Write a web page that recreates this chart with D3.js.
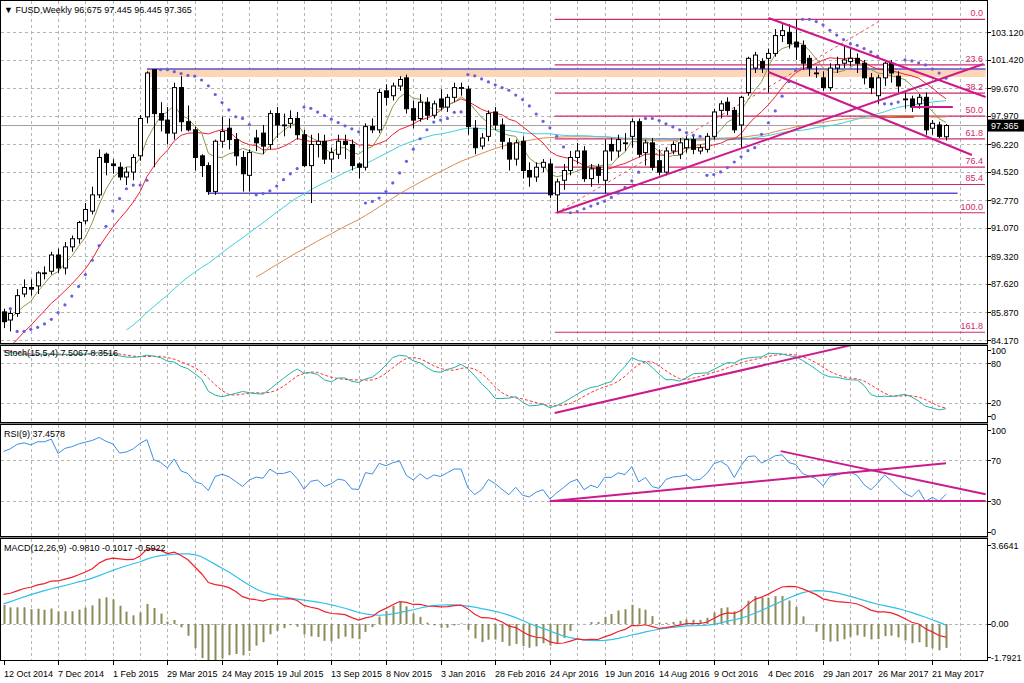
<!DOCTYPE html>
<html><head><meta charset="utf-8">
<script src="https://cdn.jsdelivr.net/npm/d3@7"></script>
<style>
body{margin:0;background:#fff;}
text{font-family:"Liberation Sans",Arial,sans-serif;font-size:9px;fill:#000;}
</style></head><body>
<svg id="chart" width="1024" height="683"></svg>
<script>
// weekly bars, FUSD, 12 Oct 2014 .. 28 May 2017  [open, high, low, close]
const bars = [
[85.9,86.1,84.9,85.3],[85.4,86.0,84.7,85.8],[85.8,87.3,85.6,86.9],[87.0,87.9,86.8,87.4],[87.4,87.9,86.9,87.3],
[87.5,88.4,87.0,88.3],[88.3,88.7,87.9,88.3],[88.4,89.6,88.2,89.4],[89.4,89.8,88.3,88.6],[88.6,90.2,88.2,89.9],
[89.9,90.6,89.6,90.4],[90.4,91.5,90.1,91.4],[91.5,92.6,91.3,92.2],[92.1,93.6,91.9,93.1],[93.1,95.9,92.9,95.4],
[95.6,95.7,94.3,95.1],[95.0,95.3,94.4,94.9],[94.8,95.1,94.0,94.2],[94.2,94.8,93.7,94.5],[94.5,95.6,94.0,95.4],
[95.5,98.0,95.2,97.8],[97.9,100.7,97.5,100.6],[100.8,100.8,94.8,98.1],[98.1,98.8,97.0,97.7],[97.7,98.5,96.2,96.9],
[96.9,100.0,96.5,99.7],[99.7,100.4,97.0,97.6],[97.6,98.6,97.0,97.1],[97.1,97.3,94.6,95.4],[95.5,95.6,94.2,94.9],
[94.9,95.1,93.1,93.3],[93.3,96.5,93.1,96.4],[96.4,97.9,96.0,97.0],[97.2,97.8,95.9,96.5],[96.5,96.9,94.9,95.5],
[95.4,95.8,93.3,94.4],[94.3,95.9,93.3,95.7],[96.6,97.1,95.8,96.3],[96.9,97.4,95.6,96.1],[96.2,98.3,95.9,98.1],
[98.1,98.5,96.6,97.4],[97.4,98.1,96.7,97.4],[97.5,98.3,97.2,97.8],[97.8,98.2,96.5,96.8],[96.8,97.1,94.8,94.9],
[94.9,96.8,92.6,96.2],[96.2,96.9,95.4,96.4],[96.4,96.8,95.0,95.3],[95.3,96.0,94.5,95.7],[95.6,96.8,95.3,96.4],
[96.4,96.8,95.3,96.2],[96.2,96.5,94.6,94.9],[95.0,95.1,94.1,94.8],[94.8,97.5,94.6,97.3],[97.3,97.8,96.9,97.1],
[97.1,99.6,96.9,99.4],[99.5,99.9,98.6,99.1],[99.2,100.0,98.9,99.8],[99.8,100.4,99.5,100.2],[100.3,100.5,98.1,98.4],
[98.4,98.9,97.2,97.7],[97.8,99.3,97.6,98.8],[98.8,99.1,97.7,98.0],[98.0,98.9,97.8,98.7],[99.0,99.6,98.3,98.5],
[98.5,99.3,98.2,99.1],[99.1,100.0,98.8,99.7],[99.7,100.0,99.2,99.7],[99.6,99.8,96.8,97.3],[97.2,97.7,95.6,96.0],
[96.1,96.9,95.9,96.6],[96.7,98.3,96.4,98.1],[98.2,98.5,97.1,97.4],[97.4,97.8,95.9,96.4],[96.3,96.6,94.6,95.3],
[95.3,96.5,94.9,96.3],[96.4,96.7,94.1,94.6],[94.6,95.1,93.6,94.2],[94.2,95.1,93.9,94.8],[94.8,95.3,94.5,95.1],
[95.0,95.3,92.9,93.1],[93.1,94.1,92.0,93.9],[94.0,95.0,93.4,94.6],[94.6,95.8,94.3,95.4],[95.4,96.3,95.0,95.8],
[95.8,96.1,93.9,94.1],[94.1,95.0,93.6,94.7],[94.8,95.0,93.8,94.3],[94.0,96.5,93.2,95.8],[96.2,96.6,95.2,95.8],
[95.8,96.8,95.4,96.5],[96.3,96.9,95.8,96.3],[96.7,97.8,96.0,97.6],[97.6,97.8,95.4,95.6],[95.7,96.5,94.9,96.3],
[96.3,96.6,94.6,94.8],[95.2,95.9,94.3,94.5],[94.5,96.0,94.3,95.8],[95.8,96.4,95.6,96.2],[95.6,96.6,95.3,96.3],
[96.0,96.7,95.7,96.5],[96.5,96.7,95.6,95.9],[95.8,96.2,95.6,96.0],[95.9,96.9,95.7,96.7],[96.7,98.4,96.5,98.2],
[98.3,98.9,97.8,98.7],[98.8,99.1,98.0,98.3],[98.3,98.5,96.9,97.1],[97.4,99.2,96.0,99.1],[99.4,101.6,99.2,101.5],
[100.9,101.9,100.6,101.7],[101.3,101.5,100.6,100.9],[101.5,102.1,99.4,101.8],[101.8,103.3,101.6,102.9],[102.9,103.6,102.5,103.2],
[103.1,103.6,102.1,102.4],[102.5,103.9,101.4,102.2],[102.3,102.6,100.8,101.2],[101.5,101.7,100.4,100.9],[100.6,101.0,100.3,100.6],
[100.3,100.7,99.5,99.7],[99.7,101.2,99.5,100.9],[100.9,101.6,100.6,101.1],[101.2,102.3,100.9,101.4],[101.3,102.1,101.0,101.5],
[101.5,101.8,100.6,101.2],[101.2,101.4,99.9,100.3],[100.3,100.6,99.3,99.7],[99.2,100.5,98.7,100.3],[100.3,101.3,99.8,101.2],
[101.2,101.4,100.0,100.6],[100.4,100.7,99.4,99.8],[99.0,99.4,98.4,99.0],[99.0,99.2,98.2,98.5],[98.7,99.3,98.4,99.1],
[99.1,99.4,96.8,97.1],[97.2,97.7,96.8,97.5],[97.4,97.6,96.6,96.7],[96.675,97.445,96.445,97.365]
];
// closes of the 31 weeks before the visible window (indicator warm-up only, not drawn)
const warmup = [80.1,79.4,80.1,80.2,79.9,79.8,79.8,79.4,79.9,80.0,80.4,80.4,80.6,80.5,80.4,80.2,
  79.8,80.1,80.9,81.0,81.4,81.4,82.1,82.2,82.7,83.3,84.0,84.5,85.0,85.5,85.9];

const dateLabels = ["12 Oct 2014","7 Dec 2014","1 Feb 2015","29 Mar 2015","24 May 2015","19 Jul 2015",
  "13 Sep 2015","8 Nov 2015","3 Jan 2016","28 Feb 2016","24 Apr 2016","19 Jun 2016","14 Aug 2016",
  "9 Oct 2016","4 Dec 2016","29 Jan 2017","26 Mar 2017","21 May 2017"];
const priceTicks = [84.170,85.870,87.620,89.320,91.070,92.770,94.520,96.220,97.970,99.670,101.420,103.120];
const fibLevels = [0,23.6,38.2,50,61.8,76.4,85.4,100,161.8];
const fibHigh = 103.9, fibLow = 92.0, fibStartBar = 81;
// drawn objects: [bar, price] pairs
const magentaLines = [
  [[81,92.0],[143.5,101.15]],
  [[112,103.98],[143.8,99.12]],
  [[112,100.66],[141.8,95.55]],
  [[133,98.5],[139,98.5]]
];
const stochTrend = [[80.7,4.5],[124,107]];
const rsiLines = [[[80,30],[143.8,30]],[[80,29.7],[138,67.3]],[[113.8,79.2],[143.8,36.6]]];

const N = bars.length, PR = 987;
const svg = d3.select("#chart");
const x = d3.scaleLinear().domain([0,138]).range([3.5,946]);
const yP = d3.scaleLinear().domain([84.17,103.12]).range([340,32]);
const yS = d3.scaleLinear().domain([0,100]).range([416,350]);
const yR = d3.scaleLinear().domain([0,100]).range([531.5,430]);
const yM = d3.scaleLinear().domain([-1.7921,3.6641]).range([662.6,545]);

// ---- indicators
const allC = warmup.concat(bars.map(b=>b[3]));
const allH = warmup.concat(bars.map(b=>b[1]));
const allL = warmup.concat(bars.map(b=>b[2]));
const W = warmup.length;
function sma(a,p){return a.map((v,i)=> i<p-1?null:d3.mean(a.slice(i-p+1,i+1)));}
function ema(a,p){const k=2/(p+1);let e=null;return a.map(v=> v==null?null:(e=e==null?v:e+k*(v-e)));}
function visible(a){return a.slice(W);}
const ma5 = visible(sma(allC,5)), ma13 = visible(sma(allC,13));
const ma50 = visible(sma(allC,50)), ma69 = visible(sma(allC,69));
// stochastic 15,5,4
const stK=[], stD=[];
(function(){
  const num=[],den=[];
  allC.forEach((c,i)=>{ if(i<14){num.push(null);den.push(null);return;}
    const hh=d3.max(allH.slice(i-14,i+1)), ll=d3.min(allL.slice(i-14,i+1));
    num.push(c-ll); den.push(hh-ll);});
  allC.forEach((c,i)=>{ if(i<18){stK.push(null);return;}
    stK.push(100*d3.sum(num.slice(i-4,i+1))/d3.sum(den.slice(i-4,i+1)));});
  stK.forEach((v,i)=> stD.push(i<21?null:d3.mean(stK.slice(i-3,i+1))));
})();
// RSI 9
const rsi=[];
(function(){let ag=0,al=0;
  allC.forEach((c,i)=>{ if(i===0){rsi.push(null);return;}
    const d=c-allC[i-1], g=Math.max(d,0), l=Math.max(-d,0);
    if(i<=9){ag+=g/9;al+=l/9;} else {ag=(ag*8+g)/9;al=(al*8+l)/9;}
    rsi.push(i<9?null:100-100/(1+ag/(al||1e-9)));});
})();
// MACD 12,26,9
const e12=ema(allC,12), e26=ema(allC,26);
const macd=allC.map((c,i)=>e12[i]-e26[i]);
const sig=sma(macd,9);
const hist=macd.map((m,i)=> sig[i]==null?null:2*(m-sig[i]));
// parabolic SAR
const sar=[];
(function(){let up=true,af=0.02,ep=bars[0][1],s=bars[0][2];sar.push(null);
  for(let i=1;i<N;i++){
    s=s+af*(ep-s);
    if(up){ s=Math.min(s,bars[i-1][2],i>1?bars[i-2][2]:bars[i-1][2]);
      if(bars[i][2]<s){up=false;s=ep;ep=bars[i][2];af=0.02;}
      else if(bars[i][1]>ep){ep=bars[i][1];af=Math.min(af+0.02,0.2);} }
    else { s=Math.max(s,bars[i-1][1],i>1?bars[i-2][1]:bars[i-1][1]);
      if(bars[i][1]>s){up=true;s=ep;ep=bars[i][1];af=0.02;}
      else if(bars[i][2]<ep){ep=bars[i][2];af=Math.min(af+0.02,0.2);} }
    sar.push(s);}
})();

// ---- panels
const panels=[[1,343],[346,422],[425,536],[539,660]];
panels.forEach((p,k)=>{
  svg.append("clipPath").attr("id","c"+k).append("rect").attr("x",1).attr("y",p[0]).attr("width",PR-1).attr("height",p[1]-p[0]);
});
const grid=svg.append("g").attr("stroke","#b4b4b4").attr("stroke-dasharray","3,3").attr("stroke-width",1);
d3.range(4,141,4).forEach(b=>{const xx=Math.round(x(b))+0.5;
  panels.forEach(p=>grid.append("line").attr("x1",xx).attr("x2",xx).attr("y1",p[0]).attr("y2",p[1]));});
priceTicks.forEach(v=>grid.append("line").attr("x1",1).attr("x2",PR).attr("y1",Math.round(yP(v))+0.5).attr("y2",Math.round(yP(v))+0.5));
[20,80].forEach(v=>grid.append("line").attr("x1",1).attr("x2",PR).attr("y1",Math.round(yS(v))+0.5).attr("y2",Math.round(yS(v))+0.5));
[30,70].forEach(v=>grid.append("line").attr("x1",1).attr("x2",PR).attr("y1",Math.round(yR(v))+0.5).attr("y2",Math.round(yR(v))+0.5));
grid.append("line").attr("x1",1).attr("x2",PR).attr("y1",Math.round(yM(0))+0.5).attr("y2",Math.round(yM(0))+0.5);

// ---- price panel objects
const gp=svg.append("g").attr("clip-path","url(#c0)");
const ptLine=(pts,sx,sy)=>[[sx(pts[0][0]),sy(pts[0][1])],[sx(pts[1][0]),sy(pts[1][1])]];
gp.append("rect").attr("x",x(21)).attr("y",yP(100.85)).attr("width",x(143.8)-x(21)).attr("height",yP(100.35)-yP(100.85)).attr("fill","#fcd5b4");
gp.append("line").attr("x1",x(21)).attr("x2",x(143.8)).attr("y1",yP(100.85)).attr("y2",yP(100.85)).attr("stroke","#5b52d0").attr("stroke-width",1.5);
gp.append("line").attr("x1",x(30)).attr("x2",x(139.7)).attr("y1",yP(93.2)).attr("y2",yP(93.2)).attr("stroke","#5b52d0").attr("stroke-width",1.5);
gp.append("line").attr("x1",1).attr("x2",PR).attr("y1",yP(97.365)).attr("y2",yP(97.365)).attr("stroke","#a0a0a0");
fibLevels.forEach(f=>{const v=fibHigh-(fibHigh-fibLow)*f/100, yy=yP(v);
  gp.append("line").attr("x1",x(fibStartBar)-2).attr("x2",985).attr("y1",yy).attr("y2",yy).attr("stroke","#d0286e").attr("stroke-width",1.2);
  gp.append("text").attr("x",983).attr("y",yy-3).attr("text-anchor","end").style("fill","#d0286e").text(f.toFixed(1));});
gp.append("line").attr("x1",x(81)).attr("y1",yP(92.0)).attr("x2",x(128.3)).attr("y2",yP(103.8)).attr("stroke","#e05050").attr("stroke-dasharray","3,3");
gp.append("line").attr("x1",x(128.4)).attr("x2",x(133.3)).attr("y1",yP(97.9)).attr("y2",yP(97.9)).attr("stroke","#c02020").attr("stroke-width",2);

const line=(sx,sy)=>d3.line().defined(d=>d[1]!=null).x(d=>sx(d[0])).y(d=>sy(d[1]));
const maLine=(arr,col)=>gp.append("path").attr("d",line(x,yP)(arr.map((v,i)=>[i,v]))).attr("fill","none").attr("stroke",col).attr("stroke-width",1);
maLine(ma69,"#e08a50"); maLine(ma50,"#40d0d8"); maLine(ma13,"#ee2030"); maLine(ma5,"#889a48");

gp.selectAll("circle.sar").data(sar.map((v,i)=>[i,v]).filter(d=>d[1]!=null)).enter().append("circle")
  .attr("cx",d=>x(d[0])).attr("cy",d=>yP(d[1])).attr("r",1.6).attr("fill","#6a5fe0");

const cg=gp.append("g");
bars.forEach((b,i)=>{const xx=Math.round(x(i))+0.5;
  cg.append("line").attr("x1",xx).attr("x2",xx).attr("y1",yP(b[1])).attr("y2",yP(b[2])).attr("stroke","#000");
  const top=yP(Math.max(b[0],b[3])), bot=yP(Math.min(b[0],b[3]));
  cg.append("rect").attr("x",xx-2).attr("y",top).attr("width",4).attr("height",Math.max(bot-top,0.8))
    .attr("fill",b[3]>=b[0]?"#fff":"#000").attr("stroke","#000").attr("stroke-width",1);});

magentaLines.forEach(l=>{const p=ptLine(l,x,yP);
  gp.append("line").attr("x1",p[0][0]).attr("y1",p[0][1]).attr("x2",p[1][0]).attr("y2",p[1][1]).attr("stroke","#cc1a8c").attr("stroke-width",2);});

// ---- stochastic
const gs=svg.append("g").attr("clip-path","url(#c1)");
gs.append("path").attr("d",line(x,yS)(visible(stD).map((v,i)=>[i,v]))).attr("fill","none").attr("stroke","#ff3030").attr("stroke-dasharray","3,2");
gs.append("path").attr("d",line(x,yS)(visible(stK).map((v,i)=>[i,v]))).attr("fill","none").attr("stroke","#20b2aa");
(function(){const p=ptLine(stochTrend,x,yS);
  gs.append("line").attr("x1",p[0][0]).attr("y1",p[0][1]).attr("x2",p[1][0]).attr("y2",p[1][1]).attr("stroke","#cc1a8c").attr("stroke-width",2);})();

// ---- RSI
const gr=svg.append("g").attr("clip-path","url(#c2)");
gr.append("path").attr("d",line(x,yR)(visible(rsi).map((v,i)=>[i,v]))).attr("fill","none").attr("stroke","#3c8ee6");
rsiLines.forEach(l=>{const p=ptLine(l,x,yR);
  gr.append("line").attr("x1",p[0][0]).attr("y1",p[0][1]).attr("x2",p[1][0]).attr("y2",p[1][1]).attr("stroke","#cc1a8c").attr("stroke-width",2);});

// ---- MACD
const gm=svg.append("g").attr("clip-path","url(#c3)");
visible(hist).forEach((h,i)=>{ if(h==null)return; const xx=Math.round(x(i))+0.5;
  gm.append("line").attr("x1",xx).attr("x2",xx).attr("y1",yM(0)).attr("y2",yM(h)).attr("stroke","#8a8a5a").attr("stroke-width",2);});
gm.append("path").attr("d",line(x,yM)(visible(sig).map((v,i)=>[i,v]))).attr("fill","none").attr("stroke","#30c0e8").attr("stroke-width",1.2);
gm.append("path").attr("d",line(x,yM)(visible(macd).map((v,i)=>[i,v]))).attr("fill","none").attr("stroke","#ee2030").attr("stroke-width",1.2);

// ---- frames
svg.append("rect").attr("x",0.5).attr("y",0.5).attr("width",PR).attr("height",660).attr("fill","none").attr("stroke","#000");
[343,422,536].forEach(y0=>{
  svg.append("line").attr("x1",0).attr("x2",PR+1).attr("y1",y0+0.5).attr("y2",y0+0.5).attr("stroke","#000");
  svg.append("line").attr("x1",0).attr("x2",PR+1).attr("y1",y0+1.5).attr("y2",y0+1.5).attr("stroke","#808080");
  svg.append("line").attr("x1",0).attr("x2",PR+1).attr("y1",y0+2.5).attr("y2",y0+2.5).attr("stroke","#000");});

// ---- axes
const axisTxt=(v,yy,t)=>{svg.append("line").attr("x1",PR).attr("x2",PR+4).attr("y1",Math.round(yy)+0.5).attr("y2",Math.round(yy)+0.5).attr("stroke","#000");
  svg.append("text").attr("x",991).attr("y",yy+3.5).text(t);};
priceTicks.forEach(v=>axisTxt(v,yP(v),v.toFixed(3)));
[100,80,20,0].forEach(v=>axisTxt(v,yS(v),String(v)));
[100,70,30,0].forEach(v=>axisTxt(v,yR(v),String(v)));
[[3.6641,"3.6641"],[0,"0.00"],[-1.7921,"-1.7921"]].forEach(d=>axisTxt(d[0],Math.min(yM(d[0]),657),d[1]));
svg.append("rect").attr("x",988).attr("y",yP(97.365)-6).attr("width",36).attr("height",12).attr("fill","#000");
svg.append("text").attr("x",991).attr("y",yP(97.365)+3.5).style("fill","#fff").text("97.365");

dateLabels.forEach((t,k)=>{const xx=Math.round(x(k*8));
  svg.append("line").attr("x1",xx+0.5).attr("x2",xx+0.5).attr("y1",660).attr("y2",665).attr("stroke","#000");
  svg.append("text").attr("x",xx).attr("y",677).text(t);});

svg.append("text").attr("x",4).attr("y",13).text("\u25BC FUSD,Weekly  96.675 97.445 96.445 97.365");
svg.append("text").attr("x",4).attr("y",356).text("Stoch(15,5,4) 7.5067 8.3516");
svg.append("text").attr("x",4).attr("y",437).text("RSI(9) 37.4578");
svg.append("text").attr("x",4).attr("y",551).text("MACD(12,26,9) -0.9810 -0.1017 -0.5922");
</script></body></html>
